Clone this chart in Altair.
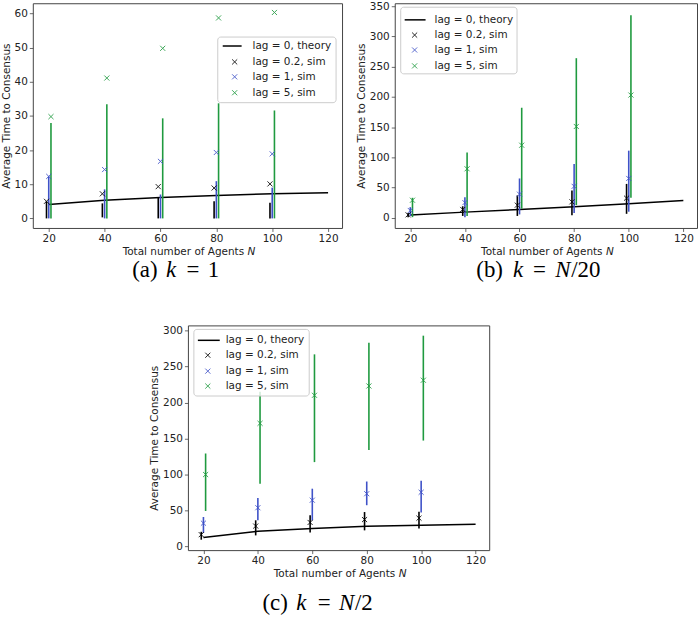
import altair as alt
import pandas as pd

# ---- data -------------------------------------------------------------
N_SIM = [20, 40, 60, 80, 100]
N_THEORY = [20, 40, 60, 80, 100, 120]

SERIES = ["lag = 0, theory", "lag = 0.2, sim", "lag = 1, sim", "lag = 5, sim"]
SIM_SERIES = SERIES[1:]
SIM_SHIFT = [-0.8, 0.0, 0.8]          # small horizontal shift between the sim series
SIM_COLORS = ["#000000", "#3f52c8", "#1f9a3f"]

# (a) k = 1
a_theory = [4.1, 5.3, 6.1, 6.7, 7.2, 7.5]
a_mean = [[5.0, 7.2, 9.3, 8.9, 10.1],
          [12.3, 14.3, 16.7, 19.3, 18.9],
          [29.8, 41.1, 49.8, 58.7, 60.3]]
a_low = [[0.0, 0.3, 0.0, 0.0, 0.0],
         [0.0, 0.0, 0.0, 0.0, 0.0],
         [0.0, 0.0, 0.0, 0.0, 0.0]]
a_high = [[5.0, 4.4, 6.0, 5.0, 4.6],
          [12.3, 8.5, 7.0, 10.9, 9.0],
          [27.9, 33.4, 29.3, 33.7, 31.6]]

# (b) k = N/20
b_theory = [4.4, 9.3, 13.7, 18.1, 23.0, 28.5]
b_mean = [[4.8, 13.7, 20.8, 26.3, 32.4],
          [12.0, 25.0, 39.0, 52.0, 65.0],
          [29.0, 81.0, 120.0, 151.0, 203.0]]
b_low = [[1.0, 3.0, 3.0, 4.0, 6.5],
         [3.0, 1.0, 5.5, 8.0, 10.0],
         [1.0, 3.0, 15.0, 21.0, 33.0]]
b_high = [[8.0, 19.0, 37.0, 45.0, 56.0],
          [17.5, 34.0, 65.0, 89.0, 111.0],
          [33.0, 108.0, 182.0, 264.0, 335.0]]

# (c) k = N/2
c_theory = [12.0, 20.8, 24.5, 27.7, 29.0, 30.5]
c_mean = [[16.0, 28.0, 33.0, 37.0, 39.0],
          [32.0, 53.5, 64.0, 73.0, 75.0],
          [99.7, 171.0, 210.0, 223.0, 231.0]]
c_low = [[9.0, 15.0, 19.0, 22.0, 24.5],
         [18.5, 36.0, 36.0, 57.0, 47.0],
         [49.0, 87.0, 117.0, 134.0, 147.0]]
c_high = [[20.0, 36.0, 43.0, 47.5, 48.0],
          [40.6, 67.0, 80.0, 90.0, 91.0],
          [129.0, 215.0, 267.0, 283.0, 293.0]]

X_TICKS = [20, 40, 60, 80, 100, 120]

FONT = "DejaVu Sans"
SERIF = "Liberation Serif"
FS = 10.5
XSHAPE = "M-1,-1L1,1M1,-1L-1,1"
FRAME = "#444444"
TEXT = "#222222"


def one():
    return alt.Data(values=[{}])


def sim_frame(mean, low, high):
    rows = []
    for s, name in enumerate(SIM_SERIES):
        for i, n in enumerate(N_SIM):
            rows.append({"N": n + SIM_SHIFT[s], "series": name,
                         "mean": mean[s][i], "low": low[s][i], "high": high[s][i]})
    return pd.DataFrame(rows)


def legend_layers(x0, y0, w, h, rows_y, line_x, mark_x, text_x):
    layers = [
        alt.Chart(one()).mark_rect(fill="white", fillOpacity=0.8, stroke="#cccccc",
                                   strokeWidth=1, cornerRadius=3)
        .encode(x=alt.value(x0), x2=alt.value(x0 + w), y=alt.value(y0), y2=alt.value(y0 + h))
    ]
    for i, label in enumerate(SERIES):
        yy = rows_y[i]
        if i == 0:
            layers.append(
                alt.Chart(one()).mark_rule(color="black", strokeWidth=1.5)
                .encode(x=alt.value(line_x[0]), x2=alt.value(line_x[1]), y=alt.value(yy)))
        else:
            layers.append(
                alt.Chart(one()).mark_point(shape=XSHAPE, size=26, filled=False,
                                            color=SIM_COLORS[i - 1], strokeWidth=1, opacity=0.85)
                .encode(x=alt.value(mark_x), y=alt.value(yy)))
        layers.append(
            alt.Chart(one()).mark_text(text=label, align="left", baseline="middle",
                                       font=FONT, fontSize=FS, color=TEXT)
            .encode(x=alt.value(text_x), y=alt.value(yy)))
    return layers


def caption_layers(pieces, y):
    out = []
    for text, x, italic in pieces:
        out.append(
            alt.Chart(one()).mark_text(text=text, align="left", baseline="middle",
                                       font=SERIF, fontSize=23, fontStyle="italic" if italic else "normal",
                                       color="black")
            .encode(x=alt.value(x), y=alt.value(y)))
    return out


def axis(values, title):
    kw = dict(values=values, grid=False, domain=False, tickColor=FRAME, tickSize=3.5,
              tickWidth=0.8, labelPadding=2, labelFont=FONT, labelFontSize=FS,
              labelColor=TEXT)
    if title:
        kw.update(title=title, titleFont=FONT, titleFontSize=FS, titleFontWeight="normal",
                  titleColor=TEXT, titlePadding=3)
    else:
        kw.update(title=None)
    return alt.Axis(**kw)


def panel(theory, mean, low, high, width, height, ydomain, yticks, leg, caption, cap_y):
    xs = alt.Scale(domain=[14.3, 125], zero=False, nice=False)
    ys = alt.Scale(domain=ydomain, zero=False, nice=False)
    xaxis = axis(X_TICKS, None)
    yaxis = axis(yticks, "Average Time to Consensus")

    sims = sim_frame(mean, low, high)
    color = alt.Color("series:N", scale=alt.Scale(domain=SIM_SERIES, range=SIM_COLORS), legend=None)

    theory_df = pd.DataFrame({"N": N_THEORY, "t": theory})
    line = alt.Chart(theory_df).mark_line(color="black", strokeWidth=1.5).encode(
        x=alt.X("N:Q", scale=xs, axis=xaxis), y=alt.Y("t:Q", scale=ys, axis=yaxis))

    bars = alt.Chart(sims).mark_rule(strokeWidth=1.6).encode(
        x=alt.X("N:Q", scale=xs, axis=xaxis),
        y=alt.Y("low:Q", scale=ys, axis=yaxis), y2="high:Q", color=color)

    pts = alt.Chart(sims).mark_point(shape=XSHAPE, size=26, filled=False, strokeWidth=1,
                                     opacity=0.85).encode(
        x=alt.X("N:Q", scale=xs, axis=xaxis),
        y=alt.Y("mean:Q", scale=ys, axis=yaxis), color=color)

    # x-axis title with an italic N
    cx = width / 2
    xtitle = [
        alt.Chart(one()).mark_text(text="Total number of Agents", align="right", baseline="middle",
                                   font=FONT, fontSize=FS, color=TEXT)
        .encode(x=alt.value(cx + 57), y=alt.value(height + 24)),
        alt.Chart(one()).mark_text(text="N", align="left", baseline="middle",
                                   font=FONT, fontSize=FS, fontStyle="italic", color=TEXT)
        .encode(x=alt.value(cx + 60.5), y=alt.value(height + 24)),
    ]

    return alt.layer(line, bars, pts, *legend_layers(*leg), *xtitle,
                     *caption_layers(caption, cap_y)).properties(
        width=width, height=height,
        view=alt.ViewBackground(stroke=FRAME, strokeWidth=1, strokeOpacity=1))


chart_a = panel(a_theory, a_mean, a_low, a_high, 311, 226, [-2.8, 63.0],
                [0, 10, 20, 30, 40, 50, 60],
                (186, 34, 119, 66, [43, 59, 74, 90], (191, 210), 203, 221),
                [("(a)", 100, False), ("k", 134, True), ("=", 154.5, False), ("1", 176, False)], 268)

chart_b = panel(b_theory, b_mean, b_low, b_high, 304, 226, [-16.9, 354.9],
                [0, 50, 100, 150, 200, 250, 300, 350],
                (6, 4, 117, 67, [16.7, 32, 47, 63], (10, 31), 20, 40),
                [("(b)", 82, False), ("k", 119, True), ("=", 139, False),
                 ("N", 161.5, True), ("/20", 177.5, False)], 268)

chart_c = panel(c_theory, c_mean, c_low, c_high, 303, 226, [-5.5, 307.3],
                [0, 50, 100, 150, 200, 250, 300],
                (6, 4, 116, 67, [15, 30, 46, 61], (10, 32), 20, 38),
                [("(c)", 75, False), ("k", 109, True), ("=", 130.5, False),
                 ("N", 152, True), ("/2", 168, False)], 279)

spacer = alt.Chart(one()).mark_point(opacity=0).encode(
    x=alt.value(0), y=alt.value(0)).properties(width=116, height=10)

top = alt.hconcat(chart_a, chart_b, spacing=12)
bottom = alt.hconcat(spacer, chart_c, spacing=0)

chart = alt.vconcat(top, bottom, spacing=40).properties(
    padding={"left": 0, "top": -1.5, "right": 0, "bottom": 0},
    background="white",
).configure_view(strokeOpacity=0)

chart.save("out.html", embed_options={"renderer": "svg", "actions": False})
